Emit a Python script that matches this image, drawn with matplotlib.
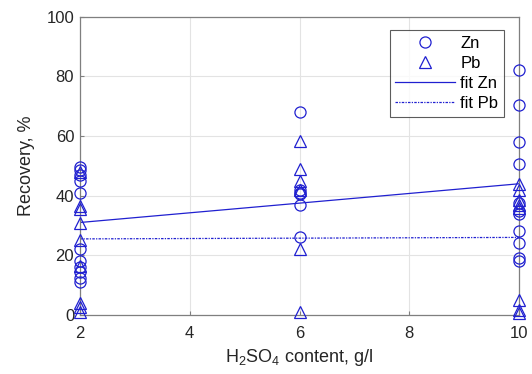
import numpy as np
import matplotlib
matplotlib.use('Agg')
import matplotlib.pyplot as plt

plt.rcParams['font.family'] = ['Liberation Sans', 'DejaVu Sans']
plt.rcParams['mathtext.fontset'] = 'custom'
plt.rcParams['mathtext.rm'] = 'Liberation Sans'
plt.rcParams['mathtext.it'] = 'Liberation Sans'

# Recovery data (H2SO4 content, g/l -> recovery, %)
zn_x = [2]*11 + [6]*6 + [10]*11
zn_y = [49.5, 48.5, 47, 45, 41, 22, 18, 16, 14.5, 12.5, 11,
        68, 42, 41, 40.5, 37, 26,
        82, 70.5, 58, 50.5, 37.5, 35, 34, 28, 24, 19, 18]
pb_x = [2]*9 + [6]*6 + [10]*8
pb_y = [48, 36.5, 35.5, 31, 25, 16.5, 4, 2.5, 1,
        58.5, 49, 45, 42, 22, 1,
        44, 42, 38.5, 37, 36, 5, 1.5, 0.5]

# fitted lines (end points)
fit_x = [2, 10]
fit_zn = [31, 44]
fit_pb = [25.5, 26]

blue = '#2020d0'
axcol = '#7f7f7f'

fig = plt.figure(figsize=(5.32, 3.74), dpi=100)
ax = fig.add_axes([0.150, 0.158, 0.826, 0.797])

ax.plot(zn_x, zn_y, 'o', mfc='none', mec=blue, ms=8, mew=0.9, label='Zn', clip_on=False, zorder=3)
ax.plot(pb_x, pb_y, '^', mfc='none', mec=blue, ms=8.5, mew=0.9, label='Pb', clip_on=False, zorder=3)
ax.plot(fit_x, fit_zn, '-', color=blue, lw=0.9, label='fit Zn', zorder=2)
ax.plot(fit_x, fit_pb, '-.', color=blue, lw=0.9, dashes=(2, 1, 1, 1), label='fit Pb', zorder=2)

ax.set_xlim(2, 10)
ax.set_ylim(0, 100)
ax.set_xticks([2, 4, 6, 8, 10])
ax.set_yticks([0, 20, 40, 60, 80, 100])
ax.grid(True, color='#e3e3e3', lw=0.8)
ax.set_axisbelow(True)
for s in ax.spines.values():
    s.set_color(axcol)
    s.set_linewidth(0.9)
ax.tick_params(direction='in', length=3, color=axcol, labelsize=12, labelcolor='#262626')
ax.tick_params(axis='x', pad=8)
ax.tick_params(axis='y', pad=4)

ax.set_xlabel(r'H$_2$SO$_4$ content, g/l', fontsize=13, color='#262626', labelpad=4)
ax.set_ylabel('Recovery, %', fontsize=13, color='#262626', labelpad=8)

leg = ax.legend(loc='upper right', bbox_to_anchor=(0.966, 0.956), borderaxespad=0, fontsize=12,
                frameon=True, fancybox=False, edgecolor='#333333', handlelength=3.6,
                borderpad=0.35, labelspacing=0.3, handletextpad=0.3)
leg.get_frame().set_linewidth(0.8)

fig.savefig('out.png', dpi=100)
